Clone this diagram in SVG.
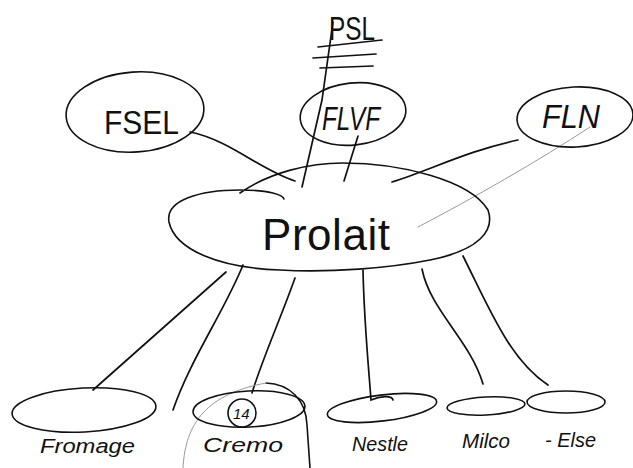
<svg xmlns="http://www.w3.org/2000/svg" width="633" height="468" viewBox="0 0 633 468">
<style>
.o{fill:none;stroke:#111;stroke-width:1.6;stroke-linecap:round;stroke-linejoin:round}
.c{fill:none;stroke:#111;stroke-width:1.7;stroke-linecap:round}
.f{fill:none;stroke:#999;stroke-width:1;stroke-linecap:round}
.t{font-family:"Liberation Sans","DejaVu Sans",sans-serif;fill:#111;font-weight:normal}
.big{font-size:34px}
.small{font-size:20px;font-style:italic}
</style>
<rect width="633" height="468" fill="#fff"/>
<g id="connectors">
<path class="c" d="M190,132 C230,140 260,170 295,181"/>
<path class="c" d="M333,22 L322,100 L302,187"/>
<path class="c" d="M358,136 L344,181"/>
<path class="c" d="M518,140 C470,150 430,170 392,182"/>
<path class="f" d="M590,127 C540,160 470,200 418,227"/>
<path class="c" d="M226,272 L93,390"/>
<path class="c" d="M243,265 C225,310 190,360 173,410"/>
<path class="c" d="M295,278 C280,320 262,360 252,393"/>
<path class="c" d="M363,270 C364,320 368,360 371,400 C380,396 392,395 393,400"/>
<path class="c" d="M422,269 C430,310 470,340 483,384"/>
<path class="c" d="M463,256 C490,310 510,360 548,385"/>
</g>
<g id="psl">
<text class="t big" x="329" y="40" textLength="46" lengthAdjust="spacingAndGlyphs">PSL</text>
<path class="c" d="M318,47 L382,40 M313,58 L376,54 M320,68 L373,66"/>
</g>
<g id="fsel">
<ellipse class="o" cx="135" cy="112" rx="69" ry="40" transform="rotate(-4 135 112)"/>
<text class="t big" x="104" y="134" textLength="75" lengthAdjust="spacingAndGlyphs">FSEL</text>
</g>
<g id="flvf">
<ellipse class="o" cx="353" cy="114" rx="53" ry="31" transform="rotate(-6 353 114)"/>
<text class="t big" x="322" y="130" textLength="58" lengthAdjust="spacingAndGlyphs" font-style="italic">FLVF</text>
</g>
<g id="fln">
<ellipse class="o" cx="575" cy="117" rx="58" ry="30" transform="rotate(-3 575 117)"/>
<text class="t big" x="542" y="128" textLength="58" lengthAdjust="spacingAndGlyphs" font-style="italic">FLN</text>
</g>
<g id="prolait">
<path class="o" d="M240,193 C270,172 310,163 343,163 C400,163 470,180 488,210 C495,230 480,250 430,260 C390,268 330,273 280,270 C220,268 175,250 169,222 C165,200 200,190 240,190 C270,190 283,195 284,199"/>
<text class="t" font-size="44" x="262" y="250" textLength="128" lengthAdjust="spacing">Prolait</text>
</g>
<g id="fromage">
<ellipse class="o" cx="84" cy="410" rx="72" ry="22" transform="rotate(-3 84 410)"/>
<text class="t small" x="40" y="453" textLength="95" lengthAdjust="spacingAndGlyphs">Fromage</text>
</g>
<g id="cremo">
<path class="o" d="M266,383 C290,384 306,400 307,425 L310,468"/>
<path class="f" d="M183,468 C185,430 200,395 266,383"/>
<ellipse class="o" cx="249" cy="409" rx="56" ry="18" transform="rotate(-3 249 409)"/>
<circle class="o" cx="242" cy="413" r="14"/>
<text class="t" font-size="15" x="233" y="419" font-style="italic">14</text>
<text class="t small" x="203" y="452" textLength="80" lengthAdjust="spacingAndGlyphs">Cremo</text>
</g>
<g id="nestle">
<ellipse class="o" cx="382" cy="408" rx="55" ry="13" transform="rotate(-7 382 408)"/>
<text class="t small" x="352" y="451" textLength="56" lengthAdjust="spacingAndGlyphs">Nestle</text>
</g>
<g id="milco">
<ellipse class="o" cx="486" cy="406" rx="39" ry="9" transform="rotate(-3 486 406)"/>
<text class="t small" x="462" y="448" textLength="48" lengthAdjust="spacingAndGlyphs">Milco</text>
</g>
<g id="else">
<ellipse class="o" cx="566" cy="402" rx="39" ry="11"/>
<text class="t small" x="545" y="447" textLength="51" lengthAdjust="spacingAndGlyphs">- Else</text>
</g>
</svg>
